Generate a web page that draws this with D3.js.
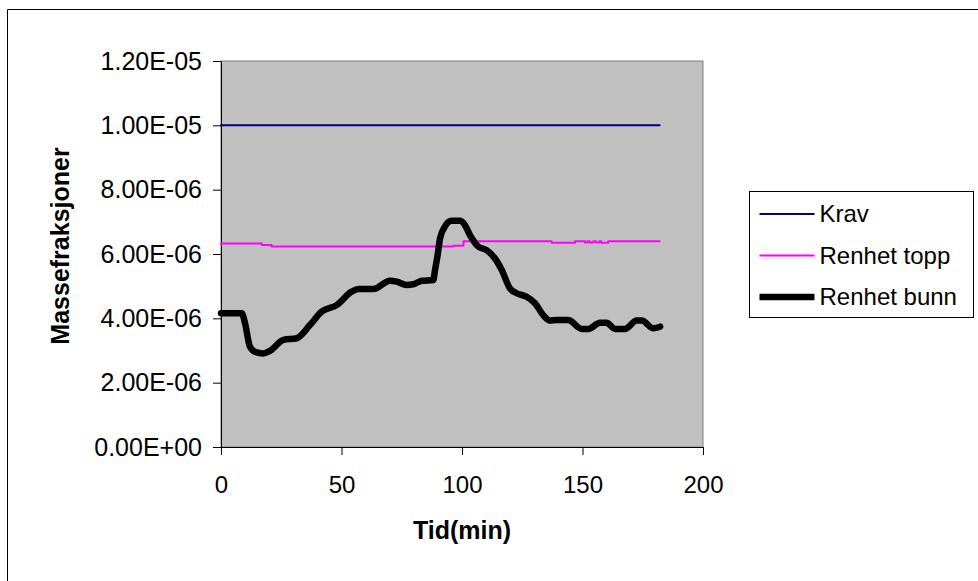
<!DOCTYPE html>
<html>
<head>
<meta charset="utf-8">
<script src="https://cdn.jsdelivr.net/npm/d3@7"></script>
<style>
  body { margin: 0; background: #fff; }
  svg { font-family: "Liberation Sans", Arial, sans-serif; display: block; }
  .axis path, .axis line { stroke: #000; }
  .axis text { font-size: 24px; fill: #000; }
  .y-axis text { font-size: 25px; }
</style>
</head>
<body>
<svg></svg>
<script>
const width = 978, height = 581;
const margin = { top: 61, right: 275, bottom: 134, left: 221 };
const innerWidth = width - margin.left - margin.right;
const innerHeight = height - margin.top - margin.bottom;

// data (values in units of 1e-6)
const kravTime = [0, 182];
const kravValue = [10, 10];

const toppTime = [0, 16.9, 21, 96.4, 100.6, 137.2, 146.9, 151, 152, 153, 154.5, 155.5, 157, 157.8, 160.7, 182];
const toppValue = [6.33, 6.28, 6.23, 6.26, 6.40, 6.35, 6.40, 6.36, 6.40, 6.36, 6.40, 6.36, 6.40, 6.35, 6.40, 6.40];

const bunnTime = [0, 8.6, 10, 12, 14.1, 17.6, 20.3, 25.9, 31.4, 36.9, 41.8, 48, 54.2, 57, 63.2, 70.1, 72.9,
  77, 79.8, 83.3, 88.1, 88.8, 89.8, 90.9, 92.9, 95.7, 99.2, 101.2, 103.3, 106.8, 110.2, 113.7, 116.5,
  119.9, 122.7, 126.8, 130.3, 133.7, 136.5, 139.2, 144.1, 149.7, 152.4, 157.3, 160, 163.5, 167.6,
  172.5, 174.6, 179.4, 182.2];
const bunnValue = [4.16, 4.16, 3.84, 3.12, 2.96, 2.91, 2.99, 3.33, 3.38, 3.79, 4.21, 4.41, 4.83, 4.91, 4.91, 5.17, 5.14,
  5.04, 5.06, 5.17, 5.19, 5.50, 5.92, 6.49, 6.85, 7.03, 7.03, 6.90, 6.59, 6.23, 6.12, 5.86, 5.50,
  4.93, 4.78, 4.67, 4.47, 4.10, 3.93, 3.95, 3.95, 3.67, 3.67, 3.86, 3.86, 3.67, 3.67,
  3.93, 3.93, 3.69, 3.74];

const xTicks = [0, 50, 100, 150, 200];
const yTicks = [0, 2e-6, 4e-6, 6e-6, 8e-6, 1e-5, 1.2e-5];
const legendLabels = ["Krav", "Renhet topp", "Renhet bunn"];

const series = [
  { name: legendLabels[0], t: kravTime, v: kravValue, color: "#000080", w: 2, curve: d3.curveLinear },
  { name: legendLabels[1], t: toppTime, v: toppValue, color: "#FF00FF", w: 2, curve: d3.curveStepAfter },
  { name: legendLabels[2], t: bunnTime, v: bunnValue, color: "#000000", w: 6.5, curve: d3.curveMonotoneX }
];

const svg = d3.select("svg")
    .attr("width", width)
    .attr("height", height);

// outer chart frame (only top and left edges fall inside the picture)
svg.append("path")
    .attr("d", `M7.5,${height}V9.5H${width}`)
    .attr("fill", "none")
    .attr("stroke", "#000");

const g = svg.append("g")
    .attr("transform", `translate(${margin.left},${margin.top})`);

const xScale = d3.scaleLinear().domain([0, 200]).range([0, innerWidth]);
const yScale = d3.scaleLinear().domain([0, 1.2e-5]).range([innerHeight, 0]);

g.append("rect")
    .attr("width", innerWidth)
    .attr("height", innerHeight)
    .attr("fill", "#C0C0C0")
    .attr("stroke", "#808080");

const fmtE = d => {
    if (d === 0) return "0.00E+00";
    const exp = Math.floor(Math.log10(Math.abs(d)) + 1e-9);
    const man = d / Math.pow(10, exp);
    const sign = exp < 0 ? "-" : "+";
    return man.toFixed(2) + "E" + sign + String(Math.abs(exp)).padStart(2, "0");
};

g.append("g")
    .attr("class", "axis x-axis")
    .attr("transform", `translate(0,${innerHeight})`)
    .call(d3.axisBottom(xScale).tickValues(xTicks).tickSize(8).tickPadding(21).tickSizeOuter(0));

g.append("g")
    .attr("class", "axis y-axis")
    .call(d3.axisLeft(yScale).tickValues(yTicks).tickFormat(fmtE).tickSize(8).tickPadding(11).tickSizeOuter(0));

const line = s => d3.line()
    .x(i => xScale(s.t[i]))
    .y(i => yScale(s.v[i] * 1e-6))
    .curve(s.curve);

series.forEach(s => {
    g.append("path")
        .datum(d3.range(s.t.length))
        .attr("fill", "none")
        .attr("stroke", s.color)
        .attr("stroke-width", s.w)
        .attr("stroke-linejoin", "round")
        .attr("stroke-linecap", "round")
        .attr("d", line(s));
});

// axis titles
svg.append("text")
    .attr("x", margin.left + innerWidth / 2)
    .attr("y", 539)
    .attr("text-anchor", "middle")
    .attr("font-weight", "bold")
    .attr("font-size", 25)
    .text("Tid(min)");

svg.append("text")
    .attr("transform", "translate(69,246) rotate(-90)")
    .attr("text-anchor", "middle")
    .attr("font-weight", "bold")
    .attr("font-size", 25)
    .text("Massefraksjoner");

// legend
const legend = svg.append("g").attr("transform", "translate(749.5,191.5)");
legend.append("rect")
    .attr("width", 224).attr("height", 126)
    .attr("fill", "#fff").attr("stroke", "#000");

series.forEach((s, i) => {
    const y = 22.5 + i * 41.5;
    legend.append("line")
        .attr("x1", 10).attr("x2", 65)
        .attr("y1", y).attr("y2", y)
        .attr("stroke", s.color)
        .attr("stroke-width", s.w);
    legend.append("text")
        .attr("x", 70).attr("y", y)
        .attr("dy", "0.35em")
        .attr("font-size", 24)
        .text(s.name);
});
</script>
</body>
</html>
